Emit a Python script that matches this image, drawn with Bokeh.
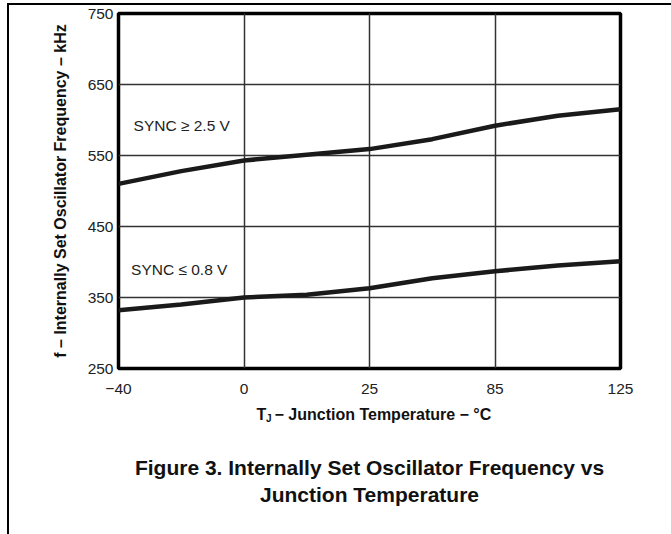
from bokeh.plotting import figure
from bokeh.models import FixedTicker, Label, Range1d
from bokeh.layouts import column
from bokeh.core.properties import value
from bokeh.embed import file_html
from bokeh.resources import INLINE
import numpy as np

# ---- data ----
tick_temps = [-40, 0, 25, 85, 125]
tick_labels = ["−40", "0", "25", "85", "125"]
temps = [-40, -20, 0, 12.5, 25, 55, 85, 105, 125]
f_sync_high = [510, 528, 543, 551, 559, 573, 592, 606, 615]   # SYNC >= 2.5 V
f_sync_low = [332, 340, 350, 354, 363, 377, 387, 395, 401]    # SYNC <= 0.8 V
y_ticks = [250, 350, 450, 550, 650, 750]

# segmented temperature axis (equal spacing between labelled temperatures)
tick_pos = list(range(len(tick_temps)))
pos = np.interp(temps, tick_temps, tick_pos)

FONT = "Liberation Sans"
OX, OY = 9, 5          # page offset of the layout (margin + border)
W = 662
H1 = 397
H2 = 534 - OY - H1

p = figure(width=W, height=H1, x_range=Range1d(0, 4), y_range=Range1d(250, 750),
           output_backend="svg", toolbar_location=None,
           min_border_left=118 - OX, min_border_right=W - (620 - OX),
           min_border_top=13 - OY, min_border_bottom=H1 - (368 - OY))
p.title.text = ""
p.outline_line_color = "black"
p.outline_line_width = 3.5

# axes
p.xaxis.ticker = FixedTicker(ticks=tick_pos)
p.xaxis.major_label_overrides = {i: t for i, t in zip(tick_pos, tick_labels)}
p.yaxis.ticker = FixedTicker(ticks=y_ticks)
for ax in (p.xaxis[0], p.yaxis[0]):
    ax.axis_line_color = None
    ax.major_tick_line_color = None
    ax.minor_tick_line_color = None
    ax.major_tick_out = 0
    ax.major_tick_in = 0
    ax.major_label_text_font = FONT
    ax.major_label_text_font_size = "15.5px"
    ax.major_label_text_color = "#222222"
p.xaxis.major_label_standoff = 15
p.yaxis.major_label_standoff = 5
p.yaxis.axis_label = "f – Internally Set Oscillator Frequency – kHz"
p.yaxis.axis_label_text_font = FONT
p.yaxis.axis_label_text_font_size = "16px"
p.yaxis.axis_label_text_font_style = "bold"
p.yaxis.axis_label_text_color = "#111111"
p.yaxis.axis_label_standoff = 16

# grid
p.xgrid.ticker = FixedTicker(ticks=tick_pos[1:-1])
p.ygrid.ticker = FixedTicker(ticks=y_ticks[1:-1])
for g in (p.xgrid[0], p.ygrid[0]):
    g.grid_line_color = "#333333"
    g.grid_line_width = 1.5

# curves
p.line(pos, f_sync_high, line_width=4.5, line_color="#1a1a1a")
p.line(pos, f_sync_low, line_width=4.5, line_color="#1a1a1a")

# curve annotations
p.add_layout(Label(x=0.12, y=592, text="SYNC ≥ 2.5 V", text_font=FONT, text_font_size="15.5px",
                   text_baseline="middle", text_color="#222222"))
p.add_layout(Label(x=0.10, y=389, text="SYNC ≤ 0.8 V", text_font=FONT, text_font_size="15.5px",
                   text_baseline="middle", text_color="#222222"))

# ---- caption strip (x-axis title + figure caption), ranges in page pixels ----
y0 = OY + H1
c = figure(width=W, height=H2, x_range=Range1d(118, 620), y_range=Range1d(534, y0),
           output_backend="svg", toolbar_location=None,
           min_border_left=118 - OX, min_border_right=W - (620 - OX),
           min_border_top=0, min_border_bottom=0)
c.title.text = ""
c.axis.visible = False
c.grid.visible = False
c.outline_line_color = None

def ctext(x, y, t, size, align="left"):
    c.text(x=[x], y=[y], text=[t], text_font=value(FONT), text_font_size=size,
           text_font_style="bold", text_align=align, text_baseline="middle",
           text_color="#111111")

ctext(256, 414, "T", "16px")
ctext(265.5, 418, "J", "10px")
ctext(274, 414, "− Junction Temperature − °C", "16px")
ctext(369, 467, "Figure 3. Internally Set Oscillator Frequency vs", "21px", align="center")
ctext(369, 494, "Junction Temperature", "21px", align="center")

layout = column(p, c, spacing=0,
                styles={"border-left": "2px solid black", "border-top": "2px solid black",
                        "margin-left": "7px", "margin-top": "3px"})

open("out.html", "w").write(file_html(layout, INLINE))
